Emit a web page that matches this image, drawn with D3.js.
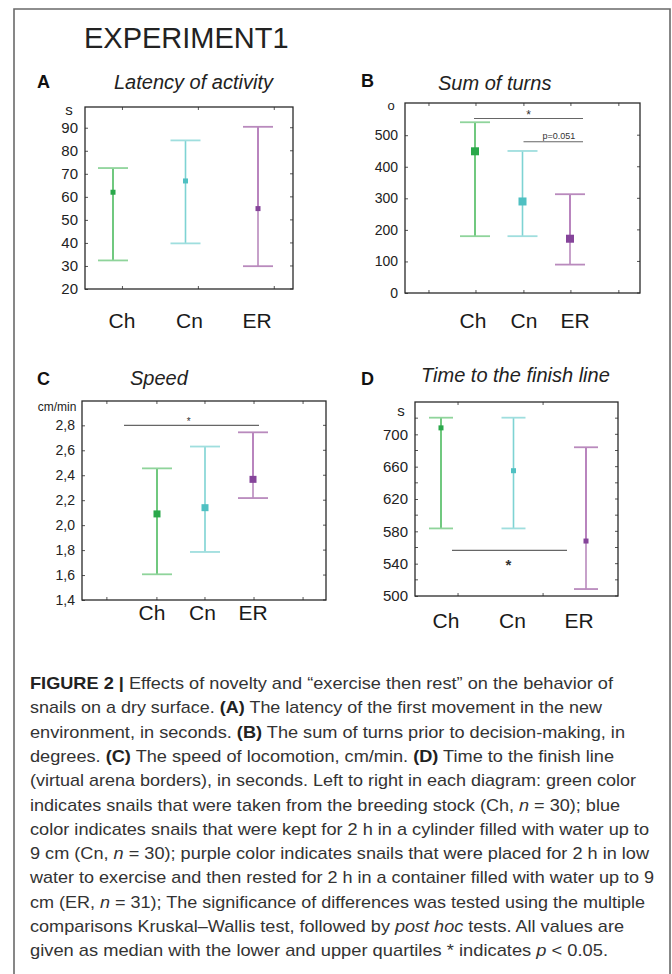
<!DOCTYPE html>
<html>
<head>
<meta charset="utf-8">
<script src="https://cdnjs.cloudflare.com/ajax/libs/d3/7.8.5/d3.min.js"></script>
<style>
  html, body { margin: 0; padding: 0; background: #fff; }
  svg { display: block; font-family: "Liberation Sans", Arial, sans-serif; }
</style>
</head>
<body>
<svg id="fig" width="672" height="974"></svg>
<script>
// groups, same for every panel
const groups = ['Ch', 'Cn', 'ER'];

// A: latency of activity, s
const latencyLow = [32.4, 39.8, 29.9];
const latencyMed = [62, 66.9, 54.9];
const latencyHigh = [72.5, 84.5, 90.4];
const latencyTicks = [20, 30, 40, 50, 60, 70, 80, 90];

// B: sum of turns, degrees
const turnsLow = [180, 180, 90];
const turnsMed = [449, 290, 172];
const turnsHigh = [541, 450, 313];
const turnsTicks = [0, 100, 200, 300, 400, 500];

// C: speed, cm/min
const speedLow = [1.606, 1.785, 2.217];
const speedMed = [2.09, 2.14, 2.367];
const speedHigh = [2.455, 2.63, 2.744];
const speedTicks = [1.4, 1.6, 1.8, 2.0, 2.2, 2.4, 2.6, 2.8];

// D: time to the finish line, s
const finishLow = [583.6, 583.6, 508.6];
const finishMed = [708, 655, 568];
const finishHigh = [720.6, 720.6, 684];
const finishTicks = [500, 540, 580, 620, 660, 700];
const finishMinor = [520, 560, 600, 640, 680, 720];

const colors = {
    Ch: { line: '#4dbb5f', cap: '#8fd49b', dot: '#2aa84a' },
    Cn: { line: '#7ed3d3', cap: '#9fdede', dot: '#4fc0c2' },
    ER: { line: '#a866ae', cap: '#b98abd', dot: '#85449a' }
};

const captionLines = [
    '**FIGURE 2 |** Effects of novelty and \u201cexercise then rest\u201d on the behavior of',
    'snails on a dry surface. **(A)** The latency of the first movement in the new',
    'environment, in seconds. **(B)** The sum of turns prior to decision-making, in',
    'degrees. **(C)** The speed of locomotion, cm/min. **(D)** Time to the finish line',
    '(virtual arena borders), in seconds. Left to right in each diagram: green color',
    'indicates snails that were taken from the breeding stock (Ch, _n_ = 30); blue',
    'color indicates snails that were kept for 2 h in a cylinder filled with water up to',
    '9 cm (Cn, _n_ = 30); purple color indicates snails that were placed for 2 h in low',
    'water to exercise and then rested for 2 h in a container filled with water up to 9',
    'cm (ER, _n_ = 31); The significance of differences was tested using the multiple',
    'comparisons Kruskal\u2013Wallis test, followed by _post hoc_ tests. All values are',
    'given as median with the lower and upper quartiles * indicates _p_ < 0.05.'
];
const captionWidths = [583, 572, 595, 584, 606, 590, 619, 619, 624, 615, 594, 578];

const svg = d3.select('#fig');

// outer frame
svg.append('path')
   .attr('d', 'M14,990 L14,9 L670,9 L670,990')
   .attr('fill', 'none')
   .attr('stroke', '#6a6a6a')
   .attr('stroke-width', 1.6);

svg.append('text')
   .attr('x', 84).attr('y', 48)
   .attr('font-size', 29)
   .attr('fill', '#222')
   .text('EXPERIMENT1');

const panels = [
    {
        letter: 'A', title: 'Latency of activity', unit: 's',
        low: latencyLow, med: latencyMed, high: latencyHigh, ticks: latencyTicks,
        domain: [20, 99], fmt: d3.format('d'),
        box: { x0: 85, x1: 293, y0: 107, y1: 289 },
        pts: [113, 258], lbls: [122, 257], lblY: 328,
        letterXY: [37, 88], titleXY: [114, 89],
        unitXY: [69, 115], unitSize: 15, tickSize: 15,
        capHalf: 15, dot: 5, edgeTicks: [0.18, 0.545, 0.91], sig: []
    },
    {
        letter: 'B', title: 'Sum of turns', unit: 'o',
        low: turnsLow, med: turnsMed, high: turnsHigh, ticks: turnsTicks,
        domain: [0, 602], fmt: d3.format('d'),
        box: { x0: 405, x1: 640, y0: 103, y1: 293 },
        pts: [475, 570], lbls: [473, 575], lblY: 328,
        letterXY: [361, 87], titleXY: [438, 90],
        unitXY: [391, 110], unitSize: 13, tickSize: 14,
        capHalf: 15, dot: 8, edgeTicks: [0.102, 0.302, 0.506, 0.706, 0.91],
        sig: [
            { from: 'Ch', to: 'ER', dx1: -1, dx2: 13, value: 553, label: '*', size: 12, bold: false, anchor: 'middle', lx: 0.5, ly: 1 },
            { from: 'Cn', to: 'ER', dx1: 1, dx2: 13, value: 479, label: 'p=0.051', size: 9, bold: false, anchor: 'end', lx: 0.87, ly: -3 }
        ]
    },
    {
        letter: 'C', title: 'Speed', unit: 'cm/min',
        low: speedLow, med: speedMed, high: speedHigh, ticks: speedTicks,
        domain: [1.4, 2.995], fmt: v => d3.format('.1f')(v).replace('.', ','),
        box: { x0: 82, x1: 326, y0: 401, y1: 600 },
        pts: [157, 253], lbls: [152, 253], lblY: 620,
        letterXY: [37, 385], titleXY: [130, 385],
        unitXY: [57, 411], unitSize: 12, tickSize: 14,
        capHalf: 15, dot: 7, edgeTicks: [0.102, 0.307, 0.504, 0.705, 0.906],
        sig: [
            { from: 'Ch', to: 'ER', dx1: -33, dx2: 6, value: 2.8, label: '*', size: 10, bold: false, anchor: 'middle', lx: 0.48, ly: 0 }
        ]
    },
    {
        letter: 'D', title: 'Time to the finish line', unit: 's',
        low: finishLow, med: finishMed, high: finishHigh, ticks: finishTicks, minor: finishMinor,
        domain: [500, 740], fmt: d3.format('d'),
        box: { x0: 415, x1: 618, y0: 402, y1: 596 },
        pts: [441, 586], lbls: [446, 579], lblY: 628,
        letterXY: [361, 385], titleXY: [421, 382],
        unitXY: [401, 416], unitSize: 15, tickSize: 15,
        capHalf: 12, dot: 5, edgeTicks: [0.212, 0.631],
        sig: [
            { from: 'Ch', to: 'ER', dx1: 11, dx2: -19, value: 556.4, label: '*', size: 15, bold: true, anchor: 'middle', lx: 0.49, ly: 20 }
        ]
    }
];

panels.forEach(function(p) {
    const b = p.box;
    const g = svg.append('g');

    const y = d3.scaleLinear().domain(p.domain).range([b.y1, b.y0]);
    const x = d3.scalePoint().domain(groups).range(p.pts);
    const xl = d3.scalePoint().domain(groups).range(p.lbls);

    // letter and title
    g.append('text')
     .attr('x', p.letterXY[0]).attr('y', p.letterXY[1])
     .attr('font-size', 18).attr('font-weight', 'bold').attr('fill', '#111')
     .text(p.letter);
    g.append('text')
     .attr('x', p.titleXY[0]).attr('y', p.titleXY[1])
     .attr('font-size', 20).attr('font-style', 'italic').attr('fill', '#222')
     .text(p.title);

    // y axis labels + inward ticks, left and right
    const yAxis = d3.axisLeft(y).tickValues(p.ticks).tickFormat(p.fmt).tickSize(-3).tickPadding(7);
    const ya = g.append('g').attr('transform', 'translate(' + b.x0 + ',0)').call(yAxis);
    ya.select('.domain').remove();
    ya.selectAll('text').attr('font-size', p.tickSize).attr('fill', '#222')
      .attr('font-family', '"Liberation Sans", Arial, sans-serif');
    ya.selectAll('line').attr('stroke', '#555');

    const rightTicks = p.ticks.concat(p.minor || []);
    g.selectAll('.rt').data(rightTicks).join('line')
     .attr('x1', b.x1 - 3).attr('x2', b.x1)
     .attr('y1', d => y(d)).attr('y2', d => y(d))
     .attr('stroke', '#555');
    if (p.minor) {
        g.selectAll('.lt').data(p.minor).join('line')
         .attr('x1', b.x0).attr('x2', b.x0 + 3)
         .attr('y1', d => y(d)).attr('y2', d => y(d))
         .attr('stroke', '#555');
    }

    // top and bottom edge ticks
    p.edgeTicks.forEach(function(f) {
        const xx = b.x0 + f * (b.x1 - b.x0);
        g.append('line').attr('x1', xx).attr('x2', xx).attr('y1', b.y0).attr('y2', b.y0 + 3).attr('stroke', '#555');
        g.append('line').attr('x1', xx).attr('x2', xx).attr('y1', b.y1).attr('y2', b.y1 - 3).attr('stroke', '#555');
    });

    // frame
    g.append('rect')
     .attr('x', b.x0).attr('y', b.y0)
     .attr('width', b.x1 - b.x0).attr('height', b.y1 - b.y0)
     .attr('fill', 'none').attr('stroke', '#2a2a2a').attr('stroke-width', 1.3);

    // unit label
    g.append('text')
     .attr('x', p.unitXY[0]).attr('y', p.unitXY[1])
     .attr('text-anchor', 'middle')
     .attr('font-size', p.unitSize).attr('fill', '#222')
     .text(p.unit);

    // category labels
    g.selectAll('.cat').data(groups).join('text')
     .attr('x', d => xl(d)).attr('y', p.lblY)
     .attr('text-anchor', 'middle')
     .attr('font-size', 21).attr('fill', '#1a1a1a')
     .text(d => d);

    // whiskers
    const rows = groups.map((k, i) => ({ k: k, lo: p.low[i], med: p.med[i], hi: p.high[i] }));
    const wg = g.selectAll('.w').data(rows).join('g');
    wg.append('line')
      .attr('x1', d => x(d.k)).attr('x2', d => x(d.k))
      .attr('y1', d => y(d.hi)).attr('y2', d => y(d.med))
      .attr('stroke', d => colors[d.k].line).attr('stroke-width', 1.6);
    wg.append('line')
      .attr('x1', d => x(d.k)).attr('x2', d => x(d.k))
      .attr('y1', d => y(d.med)).attr('y2', d => y(d.lo))
      .attr('stroke', d => d.k === 'ER' ? colors[d.k].cap : colors[d.k].line).attr('stroke-width', 1.6);
    wg.selectAll('.cap').data(d => [[d.k, d.hi], [d.k, d.lo]]).join('line')
      .attr('x1', d => x(d[0]) - p.capHalf).attr('x2', d => x(d[0]) + p.capHalf)
      .attr('y1', d => y(d[1])).attr('y2', d => y(d[1]))
      .attr('stroke', d => colors[d[0]].cap).attr('stroke-width', 1.8);
    wg.append('rect')
      .attr('x', d => x(d.k) - p.dot / 2).attr('y', d => y(d.med) - p.dot / 2)
      .attr('width', p.dot).attr('height', p.dot)
      .attr('fill', d => colors[d.k].dot);

    // significance lines
    p.sig.forEach(function(s) {
        const xa = x(s.from) + s.dx1, xb = x(s.to) + s.dx2;
        g.append('line')
         .attr('x1', xa).attr('x2', xb)
         .attr('y1', y(s.value)).attr('y2', y(s.value))
         .attr('stroke', '#666').attr('stroke-width', 1.1);
        g.append('text')
         .attr('x', xa + s.lx * (xb - xa)).attr('y', y(s.value) + s.ly)
         .attr('text-anchor', s.anchor)
         .attr('font-size', s.size).attr('fill', '#333')
         .attr('font-weight', s.bold ? 'bold' : 'normal')
         .text(s.label);
    });
});

// caption
const cap = svg.append('g')
               .attr('font-family', '"Liberation Sans Narrow", "Liberation Sans", Arial, sans-serif')
               .attr('font-size', 17)
               .attr('fill', '#333');

captionLines.forEach(function(line, i) {
    const t = cap.append('text')
                 .attr('x', 30).attr('y', 689 + i * 24.3)
                 .attr('textLength', captionWidths[i])
                 .attr('lengthAdjust', 'spacingAndGlyphs');
    line.split(/(\*\*[^*]+\*\*|_[^_]+_)/).filter(s => s.length).forEach(function(seg) {
        const ts = t.append('tspan');
        if (seg.startsWith('**')) {
            ts.attr('font-weight', 'bold').attr('fill', '#222').text(seg.slice(2, -2));
        } else if (seg.startsWith('_')) {
            ts.attr('font-style', 'italic').text(seg.slice(1, -1));
        } else {
            ts.text(seg);
        }
    });
});
</script>
</body>
</html>
